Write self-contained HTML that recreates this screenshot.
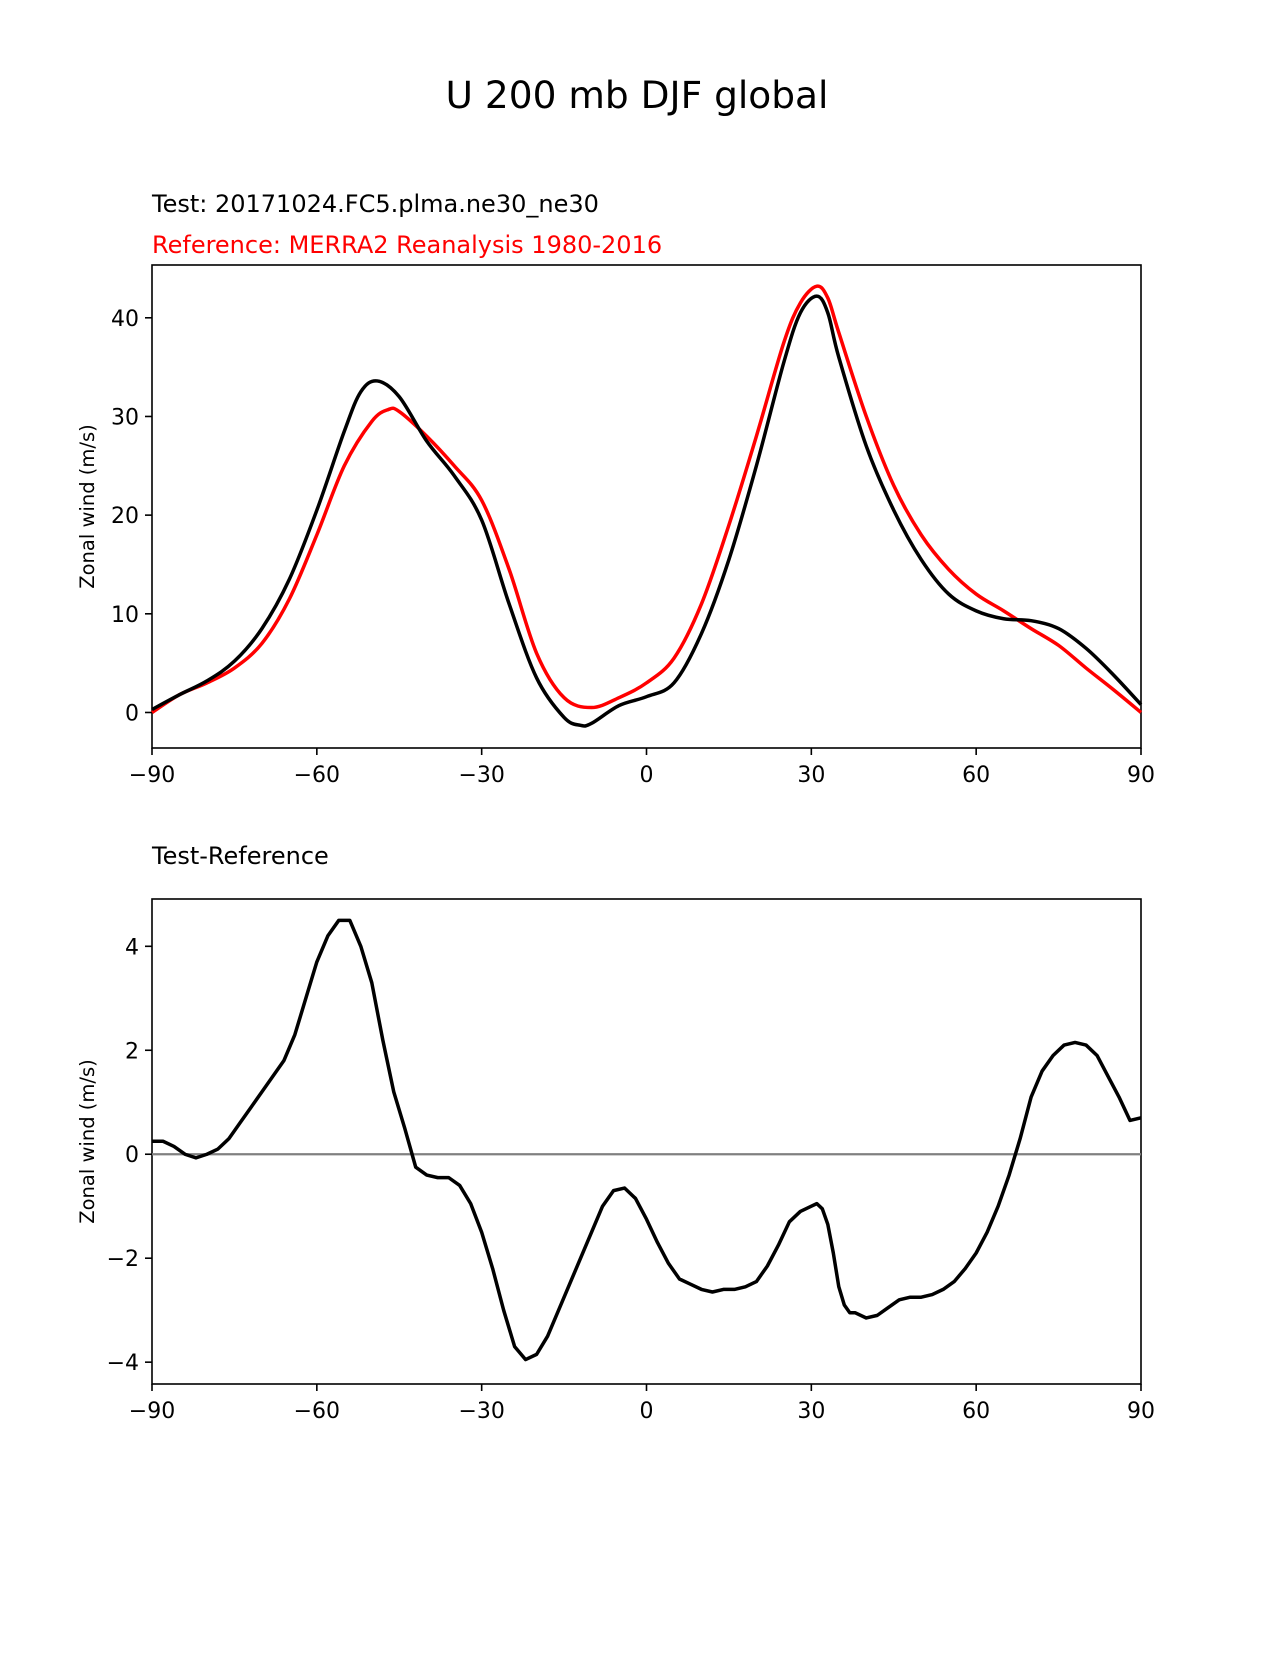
<!DOCTYPE html>
<html><head><meta charset="utf-8"><style>
html,body{margin:0;padding:0;background:#fff;}
svg text{font-family:"DejaVu Sans","Liberation Sans",sans-serif;}
</style></head><body>
<svg id="chart" width="1275" height="1650" xmlns="http://www.w3.org/2000/svg">
<text x="637" y="108" font-size="37.5" text-anchor="middle">U 200 mb DJF global</text>
<text x="152" y="212" font-size="24">Test: 20171024.FC5.plma.ne30_ne30</text>
<text x="152" y="253" font-size="24" fill="#ff0000">Reference: MERRA2 Reanalysis 1980-2016</text>
<text x="152" y="864" font-size="24">Test-Reference</text>
<g id="topPanel"></g>
<g id="botPanel"></g>
</svg>
<script>
const latTest=[-90,-85,-80,-75,-70,-65,-60,-55,-52,-49,-45,-40,-35,-30,-25,-20,-15,-12,-10,-5,0,5,10,15,20,25,28,31,33,35,40,45,50,55,60,65,70,75,80,85,90];
const uTest=[0.3,1.8,3.2,5.2,8.5,13.5,20.5,28.5,32.5,33.6,32,27.5,24,19.5,11,3.5,-0.5,-1.3,-1.1,0.7,1.6,3,8,15.5,25,35.5,40.5,42.2,40.5,36,27,20.5,15.5,12,10.3,9.5,9.3,8.5,6.5,3.8,0.8];
const latRef=[-90,-85,-80,-75,-70,-65,-60,-55,-50,-47,-45,-40,-35,-30,-25,-20,-15,-10,-5,0,5,10,15,20,25,28,31,33,35,40,45,50,55,60,65,70,75,80,85,90];
const uRef=[0,1.8,3,4.5,7,11.5,18,25,29.5,30.7,30.5,28,25,21.5,14.5,6,1.5,0.5,1.5,3,5.5,11,19,28,37.5,41.5,43.2,42,38.5,30,23,18,14.5,12,10.3,8.5,6.8,4.5,2.3,0];
const latDiff=[-90,-88,-86,-84,-82,-80,-78,-76,-74,-72,-70,-68,-66,-64,-62,-60,-58,-56,-54,-52,-50,-48,-46,-44,-42,-40,-38,-36,-34,-32,-30,-28,-26,-24,-22,-20,-18,-16,-14,-12,-10,-8,-6,-4,-2,0,2,4,6,8,10,12,14,16,18,20,22,24,26,28,30,31,32,33,34,35,36,37,38,40,42,44,46,48,50,52,54,56,58,60,62,64,66,68,70,72,74,76,78,80,82,84,86,88,90];
const uDiff=[0.25,0.25,0.15,0,-0.07,0,0.1,0.3,0.6,0.9,1.2,1.5,1.8,2.3,3.0,3.7,4.2,4.5,4.5,4.0,3.3,2.2,1.2,0.5,-0.25,-0.4,-0.45,-0.45,-0.6,-0.95,-1.5,-2.2,-3.0,-3.7,-3.95,-3.85,-3.5,-3.0,-2.5,-2.0,-1.5,-1.0,-0.7,-0.65,-0.85,-1.25,-1.7,-2.1,-2.4,-2.5,-2.6,-2.65,-2.6,-2.6,-2.55,-2.45,-2.15,-1.75,-1.3,-1.1,-1.0,-0.95,-1.05,-1.35,-1.9,-2.55,-2.9,-3.05,-3.05,-3.15,-3.1,-2.95,-2.8,-2.75,-2.75,-2.7,-2.6,-2.45,-2.2,-1.9,-1.5,-1.0,-0.4,0.3,1.1,1.6,1.9,2.1,2.15,2.1,1.9,1.5,1.1,0.65,0.7];
const xTicks=[-90,-60,-30,0,30,60,90];
const xTickLabels=["\u221290","\u221260","\u221230","0","30","60","90"];
const yTicksTop=[0,10,20,30,40];
const yTicksBot=[-4,-2,0,2,4];
const yTickLabelsBot=["\u22124","\u22122","0","2","4"];
const NS='http://www.w3.org/2000/svg';
function mk(parent,tag,attrs){const e=document.createElementNS(NS,tag);for(const k in attrs)e.setAttribute(k,attrs[k]);parent.appendChild(e);return e;}
function smoothPath(pts){let d='M'+pts[0][0]+','+pts[0][1];for(let i=0;i<pts.length-1;i++){const p0=pts[Math.max(0,i-1)],p1=pts[i],p2=pts[i+1],p3=pts[Math.min(pts.length-1,i+2)];const c1=[p1[0]+(p2[0]-p0[0])/6,p1[1]+(p2[1]-p0[1])/6];const c2=[p2[0]-(p3[0]-p1[0])/6,p2[1]-(p3[1]-p1[1])/6];d+=' C'+c1+' '+c2+' '+p2;}return d;}
function panel(g,top,bottom,ymin,ymax,yTicks,yLabels,name){
 const L=152,R=1141;
 const sx=v=>L+(v+90)/180*(R-L);
 const sy=v=>bottom-(v-ymin)/(ymax-ymin)*(bottom-top);
 const tickG=mk(g,'g',{});
 
 
 xTicks.forEach((t,i)=>{
  const l=mk(tickG,'line',{x1:sx(t),x2:sx(t),y1:bottom,y2:bottom+7,stroke:'#000','stroke-width':1.6});
  
  
  const tx=mk(tickG,'text',{x:sx(t),y:bottom+34,'font-size':22,'text-anchor':'middle'});
  tx.textContent=xTickLabels[i];
  
  
 });
 yTicks.forEach((t,i)=>{
  const l=mk(tickG,'line',{x1:L-7,x2:L,y1:sy(t),y2:sy(t),stroke:'#000','stroke-width':1.6});
  
  
  const tx=mk(tickG,'text',{x:L-13,y:sy(t)+8,'font-size':22,'text-anchor':'end'});
  tx.textContent=yLabels?yLabels[i]:String(t);
  
  
 });
 const yl=mk(tickG,'text',{x:0,y:0,'font-size':19.5,'text-anchor':'middle',transform:'translate(94,'+((top+bottom)/2)+') rotate(-90)'});
 yl.textContent='Zonal wind (m/s)';
 
 
 const fr=mk(g,'rect',{x:L,y:top,width:R-L,height:bottom-top,fill:'none',stroke:'#000','stroke-width':1.6});
 
 
 return {sx,sy};
}
const gTop=document.getElementById('topPanel');
const axA=panel(gTop,265,748,-3.6,45.35,yTicksTop,null,'top');
const pr=mk(gTop,'path',{d:smoothPath(latRef.map((x,i)=>[axA.sx(x),axA.sy(uRef[i])])),fill:'none',stroke:'#ff0000','stroke-width':3.5});


const pt=mk(gTop,'path',{d:smoothPath(latTest.map((x,i)=>[axA.sx(x),axA.sy(uTest[i])])),fill:'none',stroke:'#000','stroke-width':3.5});


const gBot=document.getElementById('botPanel');
const axB=panel(gBot,899,1384,-4.42,4.91,yTicksBot,yTickLabelsBot,'diff');
const z=mk(gBot,'line',{x1:axB.sx(-90),x2:axB.sx(90),y1:axB.sy(0),y2:axB.sy(0),stroke:'#808080','stroke-width':2.2});


const pd=mk(gBot,'polyline',{points:latDiff.map((x,i)=>axB.sx(x)+','+axB.sy(uDiff[i])).join(' '),fill:'none',stroke:'#000','stroke-width':3.5,'stroke-linejoin':'round'});


</script>
</body></html>
